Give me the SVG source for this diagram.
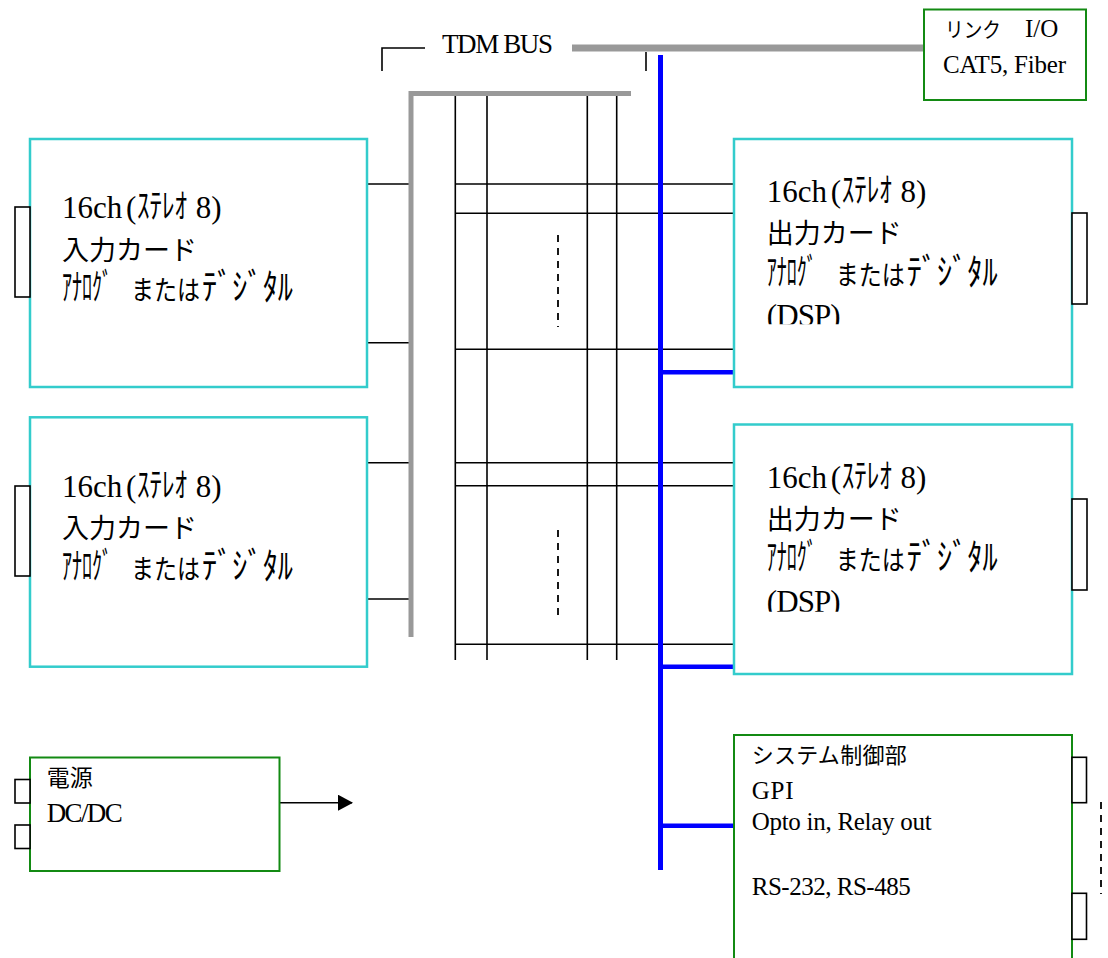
<svg xmlns="http://www.w3.org/2000/svg" width="1108" height="958" viewBox="0 0 1108 958">
<style>
.lat{font-family:"Liberation Serif","Noto Sans CJK JP",serif;fill:#000}
.jp{font-family:"Noto Sans CJK JP",sans-serif;fill:#000}
.card{fill:#fff;stroke:#33CCCC;stroke-width:2.5}
.gbox{fill:#fff;stroke:#138a13;stroke-width:2}
.port{fill:#fff;stroke:#000;stroke-width:1.6}
.wire{stroke:#000;stroke-width:1.6;fill:none}
.dash{stroke:#000;stroke-width:1.8;stroke-dasharray:7 6;fill:none}
.gray{stroke:#999;fill:none}
.blue{stroke:#0000FF;fill:none}
</style>
<defs>
<marker id="arrow" markerWidth="16" markerHeight="16" refX="14" refY="8" orient="auto" markerUnits="userSpaceOnUse">
<path d="M0,0 L15,8 L0,16 Z" fill="#000"/>
</marker>
<clipPath id="clipDsp1"><rect x="760" y="290" width="200" height="34.3"/></clipPath>
<clipPath id="clipDsp2"><rect x="760" y="577" width="200" height="34.7"/></clipPath>
</defs>

<g id="connectors">
<polyline class="wire" points="382,71 382,48 425,48" stroke-width="2"/>
<line class="wire" x1="646" y1="52" x2="646" y2="71" stroke-width="2"/>
<line class="wire" x1="455.3" y1="93" x2="455.3" y2="660"/>
<line class="wire" x1="487" y1="93" x2="487" y2="660"/>
<line class="wire" x1="587.3" y1="93" x2="587.3" y2="660"/>
<line class="wire" x1="616.7" y1="93" x2="616.7" y2="660"/>
<line class="wire" x1="455" y1="184" x2="734" y2="184"/>
<line class="wire" x1="455" y1="213.3" x2="734" y2="213.3"/>
<line class="wire" x1="455" y1="349.3" x2="734" y2="349.3"/>
<line class="wire" x1="455" y1="462.7" x2="734" y2="462.7"/>
<line class="wire" x1="455" y1="485.7" x2="734" y2="485.7"/>
<line class="wire" x1="455" y1="644.3" x2="734" y2="644.3"/>
<line class="wire" x1="367" y1="184" x2="410" y2="184"/>
<line class="wire" x1="367" y1="342.7" x2="410" y2="342.7"/>
<line class="wire" x1="367" y1="462.7" x2="410" y2="462.7"/>
<line class="wire" x1="367" y1="599" x2="410" y2="599"/>
<line class="dash" x1="558" y1="235" x2="558" y2="327"/>
<line class="dash" x1="558" y1="530" x2="558" y2="621"/>
<line class="dash" x1="1101" y1="802" x2="1101" y2="894" stroke-dasharray="6 7"/>
<line class="gray" x1="572" y1="48" x2="924" y2="48" stroke-width="7"/>
<polyline class="gray" points="411,637 411,93.5 631,93.5" stroke-width="5"/>
<line class="blue" x1="660.5" y1="55" x2="660.5" y2="870" stroke-width="5"/>
<line class="blue" x1="660" y1="372.3" x2="734" y2="372.3" stroke-width="4.5"/>
<line class="blue" x1="660" y1="666.7" x2="734" y2="666.7" stroke-width="4.5"/>
<line class="blue" x1="660" y1="825.7" x2="734" y2="825.7" stroke-width="4.5"/>
<line class="wire" x1="279.5" y1="802.7" x2="352" y2="802.7" stroke-width="2" marker-end="url(#arrow)"/>
</g>

<g id="link-io">
<rect class="gbox" x="924" y="9.5" width="162" height="90.5"/>
<text x="945" y="36.7"><tspan class="jp" font-size="21" textLength="56" lengthAdjust="spacingAndGlyphs">リンク</tspan><tspan class="jp" font-size="21">　</tspan><tspan class="lat" x="1025" font-size="25">I/O</tspan></text>
<text class="lat" x="943" y="73.3" font-size="25" textLength="123">CAT5, Fiber</text>
</g>

<g id="tdm-bus-label">
<text class="lat" x="442" y="53.3" font-size="27" textLength="111">TDM BUS</text>
</g>

<g id="input-card-1">
<rect class="card" x="30" y="139" width="337" height="248"/>
<rect class="port" x="15" y="207" width="15" height="90"/>
<text class="lat" x="62" y="218" font-size="31"><tspan>16ch </tspan><tspan x="126">(</tspan><tspan class="jp" x="137" font-size="34" textLength="50" lengthAdjust="spacingAndGlyphs">ｽﾃﾚｵ</tspan><tspan x="188"> 8)</tspan></text>
<text class="jp" x="62" y="260" font-size="27">入力カード</text>
<text class="jp" x="62" y="300" font-size="27"><tspan font-size="36" textLength="50" lengthAdjust="spacingAndGlyphs">ｱﾅﾛｸﾞ</tspan><tspan> </tspan><tspan x="131" textLength="69" lengthAdjust="spacingAndGlyphs">または</tspan><tspan x="202" font-size="36" textLength="91" lengthAdjust="spacingAndGlyphs">ﾃﾞｼﾞﾀﾙ</tspan></text>
</g>

<g id="input-card-2">
<rect class="card" x="30" y="417.3" width="337" height="249.4"/>
<rect class="port" x="15" y="486" width="15" height="90"/>
<text class="lat" x="62" y="497" font-size="31"><tspan>16ch </tspan><tspan x="126">(</tspan><tspan class="jp" x="137" font-size="34" textLength="50" lengthAdjust="spacingAndGlyphs">ｽﾃﾚｵ</tspan><tspan x="188"> 8)</tspan></text>
<text class="jp" x="62" y="538" font-size="27">入力カード</text>
<text class="jp" x="62" y="579" font-size="27"><tspan font-size="36" textLength="50" lengthAdjust="spacingAndGlyphs">ｱﾅﾛｸﾞ</tspan><tspan> </tspan><tspan x="131" textLength="69" lengthAdjust="spacingAndGlyphs">または</tspan><tspan x="202" font-size="36" textLength="91" lengthAdjust="spacingAndGlyphs">ﾃﾞｼﾞﾀﾙ</tspan></text>
</g>

<g id="output-card-1">
<rect class="card" x="734" y="139" width="338" height="248"/>
<rect class="port" x="1072" y="213" width="15" height="91"/>
<text class="lat" x="766.7" y="201.7" font-size="31"><tspan>16ch </tspan><tspan x="830.7">(</tspan><tspan class="jp" x="841.7" font-size="34" textLength="50" lengthAdjust="spacingAndGlyphs">ｽﾃﾚｵ</tspan><tspan x="892.7"> 8)</tspan></text>
<text class="jp" x="766.7" y="243" font-size="27">出力カード</text>
<text class="jp" x="766.7" y="285" font-size="27"><tspan font-size="36" textLength="50" lengthAdjust="spacingAndGlyphs">ｱﾅﾛｸﾞ</tspan><tspan> </tspan><tspan x="835.7" textLength="69" lengthAdjust="spacingAndGlyphs">または</tspan><tspan x="906.7" font-size="36" textLength="91" lengthAdjust="spacingAndGlyphs">ﾃﾞｼﾞﾀﾙ</tspan></text>
<text class="lat" x="766.7" y="325.5" font-size="31" textLength="74" clip-path="url(#clipDsp1)">(DSP)</text>
</g>

<g id="output-card-2">
<rect class="card" x="734" y="424.5" width="338" height="249.5"/>
<rect class="port" x="1072" y="499" width="15" height="91"/>
<text class="lat" x="766.7" y="487.7" font-size="31"><tspan>16ch </tspan><tspan x="830.7">(</tspan><tspan class="jp" x="841.7" font-size="34" textLength="50" lengthAdjust="spacingAndGlyphs">ｽﾃﾚｵ</tspan><tspan x="892.7"> 8)</tspan></text>
<text class="jp" x="766.7" y="528.5" font-size="27">出力カード</text>
<text class="jp" x="766.7" y="570" font-size="27"><tspan font-size="36" textLength="50" lengthAdjust="spacingAndGlyphs">ｱﾅﾛｸﾞ</tspan><tspan> </tspan><tspan x="835.7" textLength="69" lengthAdjust="spacingAndGlyphs">または</tspan><tspan x="906.7" font-size="36" textLength="91" lengthAdjust="spacingAndGlyphs">ﾃﾞｼﾞﾀﾙ</tspan></text>
<text class="lat" x="766.7" y="612" font-size="31" textLength="74" clip-path="url(#clipDsp2)">(DSP)</text>
</g>

<g id="power">
<rect class="gbox" x="30" y="757.5" width="249.5" height="113.5"/>
<rect class="port" x="15" y="779.5" width="15" height="23.5"/>
<rect class="port" x="15" y="825" width="15" height="23.5"/>
<text class="jp" x="46.7" y="786" font-size="23">電源</text>
<text class="lat" x="46.7" y="821.7" font-size="27" textLength="76">DC/DC</text>
</g>

<g id="system-control">
<rect class="gbox" x="734" y="735" width="338" height="240"/>
<rect class="port" x="1072" y="757.3" width="14.5" height="45.4"/>
<rect class="port" x="1072" y="893.3" width="14.5" height="46"/>
<text class="jp" x="751.7" y="763" font-size="22" textLength="155">システム制御部</text>
<text class="lat" x="751.7" y="799" font-size="25" textLength="42">GPI</text>
<text class="lat" x="751.7" y="830" font-size="25" textLength="180">Opto in, Relay out</text>
<text class="lat" x="751.7" y="895" font-size="25" textLength="159">RS-232, RS-485</text>
</g>
</svg>
